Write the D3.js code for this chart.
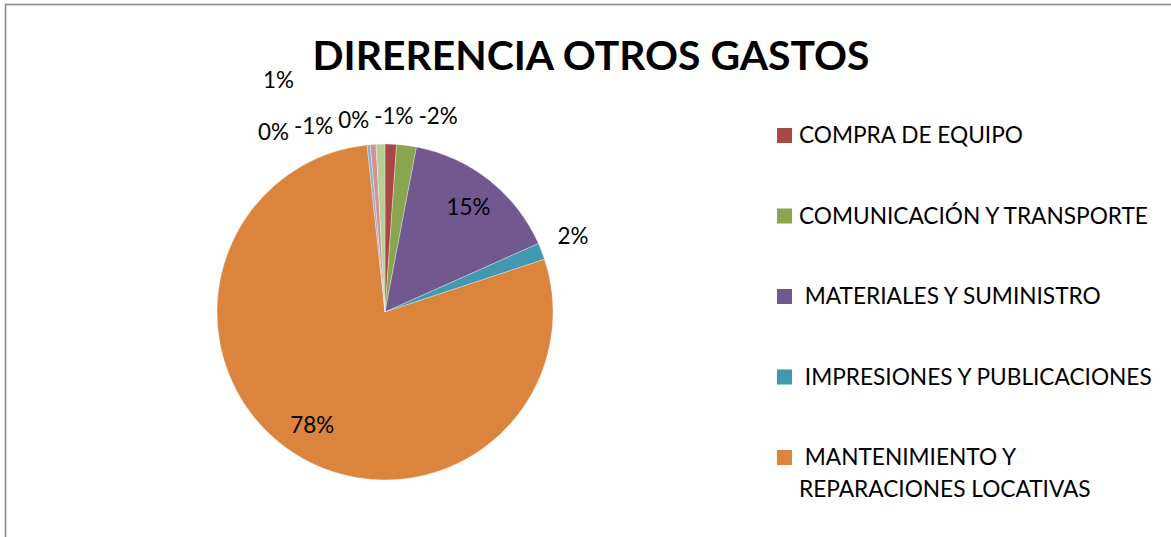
<!DOCTYPE html>
<html><head><meta charset="utf-8">
<script src="https://cdn.jsdelivr.net/npm/d3@7"></script>
<style>
html,body{margin:0;padding:0;background:#fff;overflow:hidden}
svg text{font-family:Lato,"Open Sans",sans-serif;white-space:pre}
</style></head>
<body>
<svg id="c" width="1171" height="537"></svg>
<script>
// ---- data ----
const title = "DIRERENCIA OTROS GASTOS";
const categories = ["OTRO GASTO A", "COMPRA DE EQUIPO", "COMUNICACIÓN Y TRANSPORTE", " MATERIALES Y SUMINISTRO",
  " IMPRESIONES Y PUBLICACIONES", " MANTENIMIENTO Y REPARACIONES LOCATIVAS", "OTRO GASTO B", "OTRO GASTO C", "OTRO GASTO D"];
const values = [0, -1.1, -1.9, 15.3, 1.6, 78.3, -0.3, -0.55, 0.85];
const colors = ["#4572A7", "#AA4643", "#89A54E", "#71588F", "#4198AF", "#DB843D", "#93A9CF", "#D19392", "#B9CD96"];
const legendShown = [1, 2, 3, 4, 5]; // entries visible in the (truncated) legend

// ---- layout ----
const svg = d3.select("#c");
const W = 1171, H = 537;
const cx = 385, cy = 312, R = 168;

svg.append("rect").attr("x", 5.5).attr("y", 4.5).attr("width", W + 20).attr("height", H + 20)
  .attr("fill", "#fff").attr("stroke", "#8a8a8a").attr("stroke-width", 1.6);

function fitSize(text, weight, target, base) {
  const t = svg.append("text").attr("font-size", base).attr("font-weight", weight).text(text);
  const w = t.node().getComputedTextLength(); t.remove();
  return base * target / w;
}

// title
const titleSize = fitSize(title, "bold", 557, 50);
svg.append("text").attr("x", 591).attr("y", 70).attr("text-anchor", "middle")
  .attr("font-size", titleSize).attr("font-weight", "bold").attr("fill", "#000").text(title);

// pie
const sumAbs = d3.sum(values, v => Math.abs(v));
const pct = v => { const p = Math.round(v / sumAbs * 100); return (p === 0 ? 0 : p) + "%"; };
const pie = d3.pie().sort(null).value(d => Math.abs(d.v)).startAngle(0).endAngle(2 * Math.PI);
const arcs = pie(values.map((v, i) => ({ v, i })));
const arc = d3.arc().innerRadius(0).outerRadius(R);
const g = svg.append("g").attr("transform", `translate(${cx},${cy})`);
g.selectAll("path").data(arcs).join("path").attr("d", arc)
  .attr("fill", d => colors[d.data.i]).attr("stroke", "#fff").attr("stroke-opacity", 0.45).attr("stroke-width", 0.7);

// labels
const labelSize = fitSize("15%", "normal", 44, 24);
const measure = s => { const t = svg.append("text").attr("font-size", labelSize).text(s); const w = t.node().getComputedTextLength(); t.remove(); return w; };
const lbl = svg.append("g").attr("font-size", labelSize).attr("fill", "#000");
const mid = d => (d.startAngle + d.endAngle) / 2;
const share = d => Math.abs(d.data.v) / sumAbs;
const big = arcs.filter(d => share(d) >= 0.05);
const small = arcs.filter(d => share(d) < 0.05);
big.forEach(d => {
  const a = mid(d), r = R * 0.8;
  lbl.append("text").attr("x", cx + r * Math.sin(a)).attr("y", cy - r * Math.cos(a))
    .attr("text-anchor", "middle").attr("dominant-baseline", "central").text(pct(d.data.v));
});
// small slices: isolated ones go outside at their angle, crowded ones near the top get packed in a row
const topCluster = small.filter(d => { const a = mid(d); return a < 0.35 || a > 2 * Math.PI - 0.35; });
small.filter(d => !topCluster.includes(d)).forEach(d => {
  const a = mid(d), r = R * 1.2;
  lbl.append("text").attr("x", cx + r * Math.sin(a)).attr("y", cy - r * Math.cos(a) - 4)
    .attr("text-anchor", "middle").attr("dominant-baseline", "central").text(pct(d.data.v));
});
const signedAngle = d => { const a = mid(d); return a > Math.PI ? a - 2 * Math.PI : a; };
const gap = 5;
const rightmost = topCluster.reduce((m, d) => signedAngle(d) > signedAngle(m) ? d : m);
const rowStart = cx + R * Math.sin(rightmost.endAngle) + 2;
const leftLimit = cx - R * 0.8;
let row = [], upper = [], closed = false;
function layoutRow(list) {
  const sorted = list.slice().sort((a, b) => signedAngle(b) - signedAngle(a));
  let right = null; const pos = [];
  sorted.forEach((d, k) => {
    const w = measure(pct(d.data.v));
    let left = k === 0 ? rowStart : right - gap - w;
    pos.push({ d, left, w }); right = left;
  });
  return pos;
}
topCluster.forEach(d => {
  const trial = layoutRow(row.concat([d]));
  if (!closed && d3.min(trial, p => p.left) >= leftLimit) row.push(d); else { upper.push(d); closed = true; }
});
const rowPos = layoutRow(row);
const yTop = cy - R - 29;
rowPos.forEach(p => {
  const xc = p.left + p.w / 2, dx = xc - cx;
  const y = yTop + (dx < 0 ? 0.15 * -dx : 0);
  p.y = y;
  lbl.append("text").attr("x", p.left).attr("y", y).attr("dominant-baseline", "central").text(pct(p.d.data.v));
});
const leftP = rowPos.reduce((m, p) => p.left < m.left ? p : m);
upper.forEach((d, k) => {
  lbl.append("text").attr("x", leftP.left + 5).attr("y", leftP.y - 52 - k * 30)
    .attr("dominant-baseline", "central").text(pct(d.data.v));
});

// legend
const legSize = fitSize("COMPRA DE EQUIPO", "normal", 224, 22);
const leg = svg.append("g").attr("font-size", legSize).attr("fill", "#000");
const legX = 777, sq = 15, firstBase = 143, step = 80.5, lineH = 32, maxW = 355;
legendShown.forEach((ci, k) => {
  const base = firstBase + k * step;
  leg.append("rect").attr("x", legX).attr("y", base - sq).attr("width", sq).attr("height", sq).attr("fill", colors[ci]);
  // word wrap
  const words = categories[ci].split(" ");
  const lines = []; let cur = "";
  words.forEach((w, wi) => {
    const test = wi === 0 ? w : cur + " " + w;
    const t = leg.append("text").text(test); const tw = t.node().getComputedTextLength(); t.remove();
    if (tw > maxW && cur.trim() !== "") { lines.push(cur); cur = w; } else cur = test;
  });
  lines.push(cur);
  lines.forEach((ln, li) => {
    leg.append("text").attr("x", 799).attr("y", base + li * lineH).text(ln);
  });
});
</script>
</body></html>
